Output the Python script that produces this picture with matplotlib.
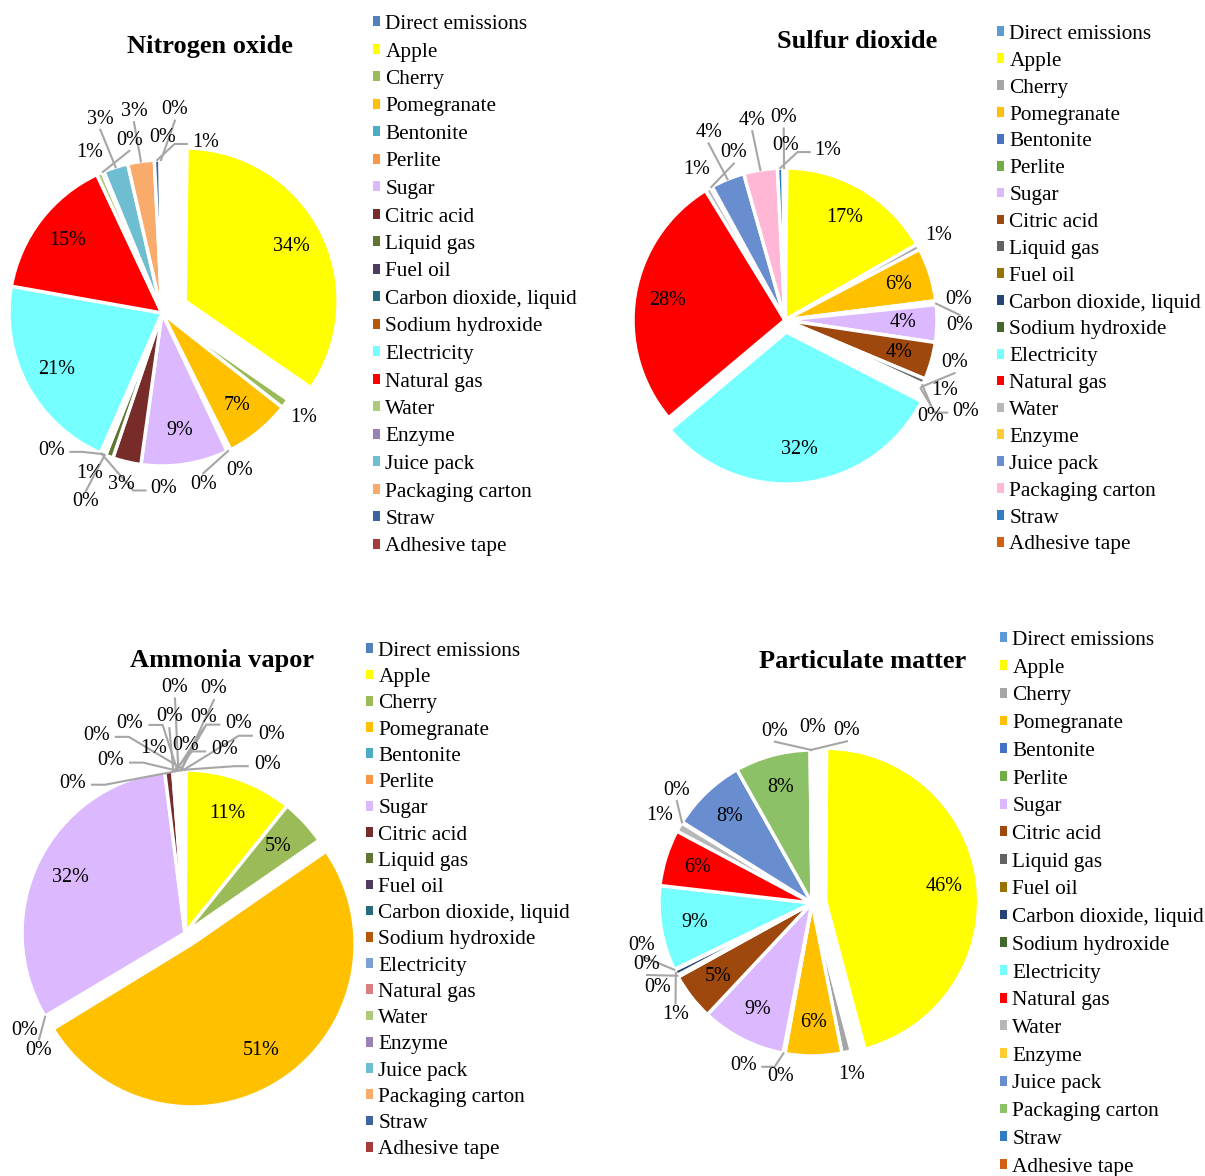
import numpy as np
import matplotlib
matplotlib.use('Agg')
import matplotlib.pyplot as plt
from matplotlib.patches import Patch

plt.rcParams['font.family'] = ['Liberation Serif', 'DejaVu Serif']

sources = ['Direct emissions', 'Apple', 'Cherry', 'Pomegranate', 'Bentonite', 'Perlite',
           'Sugar', 'Citric acid', 'Liquid gas', 'Fuel oil', 'Carbon dioxide, liquid',
           'Sodium hydroxide', 'Electricity', 'Natural gas', 'Water', 'Enzyme',
           'Juice pack', 'Packaging carton', 'Straw', 'Adhesive tape']

# shares in % (tiny ones estimated)
nox_share = [0.2, 34.4, 1.0, 7.0, 0.2, 0.2, 9.2, 3.0, 0.8, 0.2, 0.2, 0.2,
             21.2, 15.2, 0.6, 0.2, 2.6, 2.8, 0.6, 0.2]
so2_share = [0.2, 16.6, 0.6, 5.7, 0.2, 0.2, 4.0, 4.0, 0.6, 0.2, 0.2, 0.2,
             31.5, 27.5, 0.6, 0.2, 3.6, 3.6, 0.6, 0.2]
nh3_share = [0.1, 10.7, 4.6, 51.0, 0.1, 0.1, 31.6, 0.8, 0.1, 0.1, 0.1, 0.1,
             0.1, 0.1, 0.1, 0.1, 0.1, 0.1, 0.1, 0.1]
pm_share = [0.1, 46.0, 1.0, 6.0, 0.1, 0.1, 9.0, 5.0, 0.1, 0.1, 0.6, 0.1,
            9.0, 6.0, 1.0, 0.1, 8.0, 8.0, 0.1, 0.1]

nox_colors = ['#4F81BD', '#FFFF00', '#9BBB59', '#FFC000', '#4BACC6', '#F79646',
              '#DCB9FF', '#772C2A', '#5F7530', '#4D3B62', '#276A7C', '#B65708',
              '#75FFFF', '#FF0000', '#AFC97A', '#9983B5', '#6FBDD1', '#F9AB6B',
              '#3C64A0', '#A33C3A']
nh3_colors = ['#4F81BD', '#FFFF00', '#9BBB59', '#FFC000', '#4BACC6', '#F79646',
              '#DCB9FF', '#772C2A', '#5F7530', '#4D3B62', '#276A7C', '#B65708',
              '#7EA1D3', '#D8807E', '#AFC97A', '#9983B5', '#6FBDD1', '#F9AB6B',
              '#3C64A0', '#A33C3A']
so2_colors = ['#5B9BD5', '#FFFF00', '#A5A5A5', '#FFC000', '#4472C4', '#70AD47',
              '#DCB9FF', '#9E480E', '#636363', '#997300', '#264478', '#43682B',
              '#75FFFF', '#FF0000', '#B7B7B7', '#FFCD33', '#698ED0', '#FFB7D5',
              '#327DC2', '#D26012']
pm_colors = so2_colors[:17] + ['#8CC168'] + so2_colors[18:]

W, H = 1205, 1176
fig = plt.figure(figsize=(W / 100, H / 100), dpi=100)
fig.patch.set_facecolor('white')

LINE = '#A6A6A6'
RINGS = (1.15, 1.33, 1.51)


def pie_panel(cx, cy, R, shares, colors, explode, title, title_xy, leg_xy, leg_gap, xspan):
    S = 1.8
    half = S * R
    ax = fig.add_axes([(cx - half) / W, 1 - (cy + half) / H, 2 * half / W, 2 * half / H])
    ax.pie(shares, colors=colors, startangle=90, counterclock=False, explode=explode,
           wedgeprops=dict(edgecolor='white', linewidth=2.5))
    ax.set_xlim(-S, S)
    ax.set_ylim(-S, S)
    ax.set_aspect('equal')
    ax.axis('off')

    vals = np.array(shares, float)
    frac = vals / vals.sum()
    mid = 90 - (np.cumsum(frac) - frac / 2) * 360
    ex = np.array(explode, float)

    for i in np.where(vals >= 3.9)[0]:
        t = np.radians(mid[i])
        r = ex[i] + 0.78
        ax.text(r * np.cos(t), r * np.sin(t), f'{vals[i]:.0f}%', ha='center',
                va='center', fontsize=14.5)

    # greedy placement of the small-slice labels around the rim
    lw, lh = 31 / R, 19 / R
    cands = sorted((abs(off) + 13 * k, k, off) for k in range(3)
                   for off in range(-60, 61, 4))
    ymin = (cy - (title_xy[1] + 26)) / R
    placed = []
    for i in np.where(vals < 3.9)[0]:
        for _, k, off in cands:
            t1 = np.radians(mid[i] + off)
            x, y = RINGS[k] * np.cos(t1), RINGS[k] * np.sin(t1)
            px = cx + x * R
            if px - 15 < xspan[0] or px + 15 > xspan[1] or y > ymin:
                continue
            if any(abs(x - qx) < lw and abs(y - qy) < lh for qx, qy in placed):
                continue
            break
        placed.append((x, y))
        ax.text(x, y, f'{vals[i]:.0f}%', ha='center', va='center', fontsize=14.5)
        if k > 0 or abs(off) >= 8:
            t0 = np.radians(mid[i])
            p0 = ((ex[i] + 1.0) * np.cos(t0), (ex[i] + 1.0) * np.sin(t0))
            if abs(x - p0[0]) < 0.24:
                ye = y - 0.07 if y > p0[1] else y + 0.07
                xs, ys = [p0[0], x], [p0[1], ye]
            else:
                sgn = 1 if x > p0[0] else -1
                xs = [p0[0], x - sgn * 0.20, x - sgn * 0.12]
                ys = [p0[1], y - 0.01, y - 0.01]
            ax.plot(xs, ys, color=LINE, lw=1.5, clip_on=False, solid_joinstyle='miter')

    fig.text(title_xy[0] / W, 1 - title_xy[1] / H, title, ha='center', va='center',
             fontsize=19, fontweight='bold')
    handles = [Patch(facecolor=c, edgecolor='none') for c in colors]
    fig.legend(handles, sources, loc='upper left',
               bbox_to_anchor=(leg_xy[0] / W, 1 - leg_xy[1] / H), frameon=False,
               fontsize=15.3, handlelength=0.33, handleheight=0.33, handletextpad=0.25,
               labelspacing=leg_gap, borderpad=0, borderaxespad=0)


def explode_at(n, idx, amt):
    return [amt if k == idx else 0 for k in range(n)]


pie_panel(162, 313, 153, nox_share, nox_colors, explode_at(20, 1, 0.17),
          'Nitrogen oxide', (210, 47), (373, 15), 0.40, (0, 365))
pie_panel(785, 320, 152, so2_share, so2_colors, explode_at(20, 12, 0.08),
          'Sulfur dioxide', (857, 41), (997, 25), 0.37, (610, 992))
pie_panel(185, 933, 163, nh3_share, nh3_colors, explode_at(20, 3, 0.08),
          'Ammonia vapor', (222, 661), (366, 642), 0.34, (0, 358))
pie_panel(812, 903, 153, pm_share, pm_colors, explode_at(20, 1, 0.09),
          'Particulate matter', (863, 661), (1000, 631), 0.41, (610, 995))

fig.savefig('out.png', dpi=100, facecolor='white')
